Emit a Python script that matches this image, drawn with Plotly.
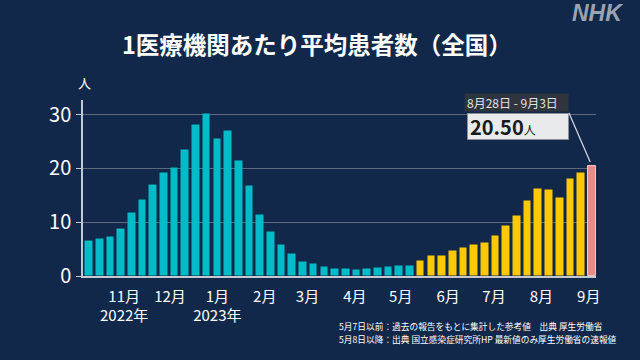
import pandas as pd
import plotly.graph_objects as go

# ---- data ----
week_end = list(pd.date_range(end="2023-09-03", periods=48, freq="W-SUN"))
values = [6.46, 6.83, 7.27, 8.70, 11.68, 14.16, 16.96, 19.13, 20.00, 23.50,
          28.00, 30.06, 25.40, 26.96, 21.35, 16.65, 11.35, 8.26, 5.70, 4.00,
          2.60, 2.17, 1.74, 1.37, 1.24, 1.12, 1.30, 1.43, 1.74, 1.80,
          1.86, 2.70, 3.63, 3.70, 4.60, 5.20, 5.70, 6.20, 7.40, 9.30,
          11.20, 14.00, 16.10, 15.90, 14.50, 17.96, 19.20, 20.50]
n_reference = 31          # weeks up to 5/7 (reference values)
month_ticks = ["2022-11-01", "2022-12-01", "2023-01-01", "2023-02-01", "2023-03-01",
               "2023-04-01", "2023-05-01", "2023-06-01", "2023-07-01", "2023-08-01",
               "2023-09-01"]
month_labels = ["11月<br>2022年", "12月", "1月<br>2023年", "2月", "3月", "4月", "5月",
                "6月", "7月", "8月", "9月"]
y_ticks = [0, 10, 20, 30]
last_period = "8月28日 - 9月3日"
title_text = "1医療機関あたり平均患者数（全国）"
notes = ["5月7日以前：過去の報告をもとに集計した参考値　出典 厚生労働省",
         "5月8日以降：出典 国立感染症研究所HP 最新値のみ厚生労働省の速報値"]

# ---- style ----
BG = "#11284a"
TEAL = "#00bcc8"
YELLOW = "#ffc800"
PINK = "#e98a8b"
FONT = "Noto Sans CJK JP"
W, H = 640, 360
L, R, T, B = 83, 596, 100, 276
X0, X1 = pd.Timestamp("2022-10-05 02:00"), pd.Timestamp("2023-09-05 18:00")
YMAX = 32.7

colors = [TEAL] * n_reference + [YELLOW] * (len(values) - n_reference - 1) + [PINK]
line_colors = ["rgba(0,0,0,0)"] * (len(values) - 1) + ["#f6c4c4"]

def px(x):
    return (x - L) / (R - L)

def py(y):
    return (B - y) / (B - T)

fig = go.Figure()
fig.add_trace(go.Bar(
    x=week_end, y=values,
    width=5.0 * 86400000,
    marker=dict(color=colors, line=dict(color=line_colors, width=1)),
    hoverinfo="skip",
))

fig.update_layout(
    width=W, height=H,
    margin=dict(l=L, r=W - R, t=T, b=H - B, pad=0),
    paper_bgcolor=BG, plot_bgcolor=BG,
    showlegend=False,
    font=dict(family=FONT, color="white"),
    bargap=0,
)
fig.update_xaxes(
    type="date",
    range=[X0, X1],
    tickvals=month_ticks, ticktext=month_labels,
    tickfont=dict(size=15, color="white", family=FONT),
    ticks="", showgrid=False, zeroline=False,
    showline=True, linecolor="#c4c8d0", linewidth=1.5,
    ticklabelstandoff=6,
)
fig.update_yaxes(
    range=[0, YMAX],
    tickvals=y_ticks,
    tickfont=dict(size=20, color="white", family=FONT),
    ticks="outside", ticklen=5, tickcolor="#c4c8d0", tickwidth=1,
    ticklabelstandoff=1,
    showgrid=True, gridcolor="#5d6a80", gridwidth=1,
    zeroline=False,
    showline=True, linecolor="#c4c8d0", linewidth=1.5,
)

last_x = week_end[-1]
last_y = values[-1]
bar_top_px = B - last_y * (B - T) / YMAX
frac = (last_x - X0) / (X1 - X0)
bar_x_px = L + (R - L) * float(frac)
tail_x, tail_y = 569, 113

annotations = [
    # title
    dict(text=title_text, xref="paper", yref="paper", x=px(317), y=py(44),
         xanchor="center", yanchor="middle", showarrow=False,
         font=dict(size=23.5, color="white", family=FONT, weight="bold")),
    # NHK logo
    dict(text="<b><i>NHK</i></b>", xref="paper", yref="paper", x=px(597), y=py(13),
         xanchor="center", yanchor="middle", showarrow=False,
         font=dict(size=23, color="#9aa3b2", family="Liberation Sans")),
    # unit
    dict(text="人", xref="paper", yref="paper", x=px(84), y=py(82),
         xanchor="center", yanchor="middle", showarrow=False,
         font=dict(size=13, color="white", family=FONT)),
    # value callout
    dict(text="<b>20.50</b><span style='font-size:12px'>人</span>",
         x=last_x, y=last_y, xref="x", yref="y",
         showarrow=True, arrowhead=0, arrowwidth=1.2, arrowcolor="#d8dce2",
         ax=tail_x - bar_x_px, ay=tail_y - bar_top_px, standoff=4,
         xanchor="right", yanchor="top",
         bgcolor="#e8eaec", bordercolor="#8a8f98", borderwidth=1, borderpad=2,
         width=96, height=21, align="left",
         font=dict(size=20, color="#1a1a1a", family=FONT)),
    # period label
    dict(text=last_period,
         x=last_x, y=last_y, xref="x", yref="y",
         showarrow=True, arrowhead=0, arrowcolor="rgba(0,0,0,0)",
         ax=tail_x - bar_x_px, ay=tail_y - 1 - bar_top_px,
         xanchor="right", yanchor="bottom",
         bgcolor="#30353d", borderpad=2, width=99, height=13, align="left",
         font=dict(size=12, color="#e0e2e6", family=FONT)),
]
for i, t in enumerate(notes):
    annotations.append(dict(text=t, xref="paper", yref="paper", x=px(337), y=py(326.5 + 13 * i),
                            xanchor="left", yanchor="middle", showarrow=False,
                            font=dict(size=8.7, color="white", family=FONT)))
fig.update_layout(annotations=annotations)

fig.write_html("out.html", config={"displayModeBar": False},
               post_script="document.body.style.margin='0px';document.body.style.background='%s';" % BG)
